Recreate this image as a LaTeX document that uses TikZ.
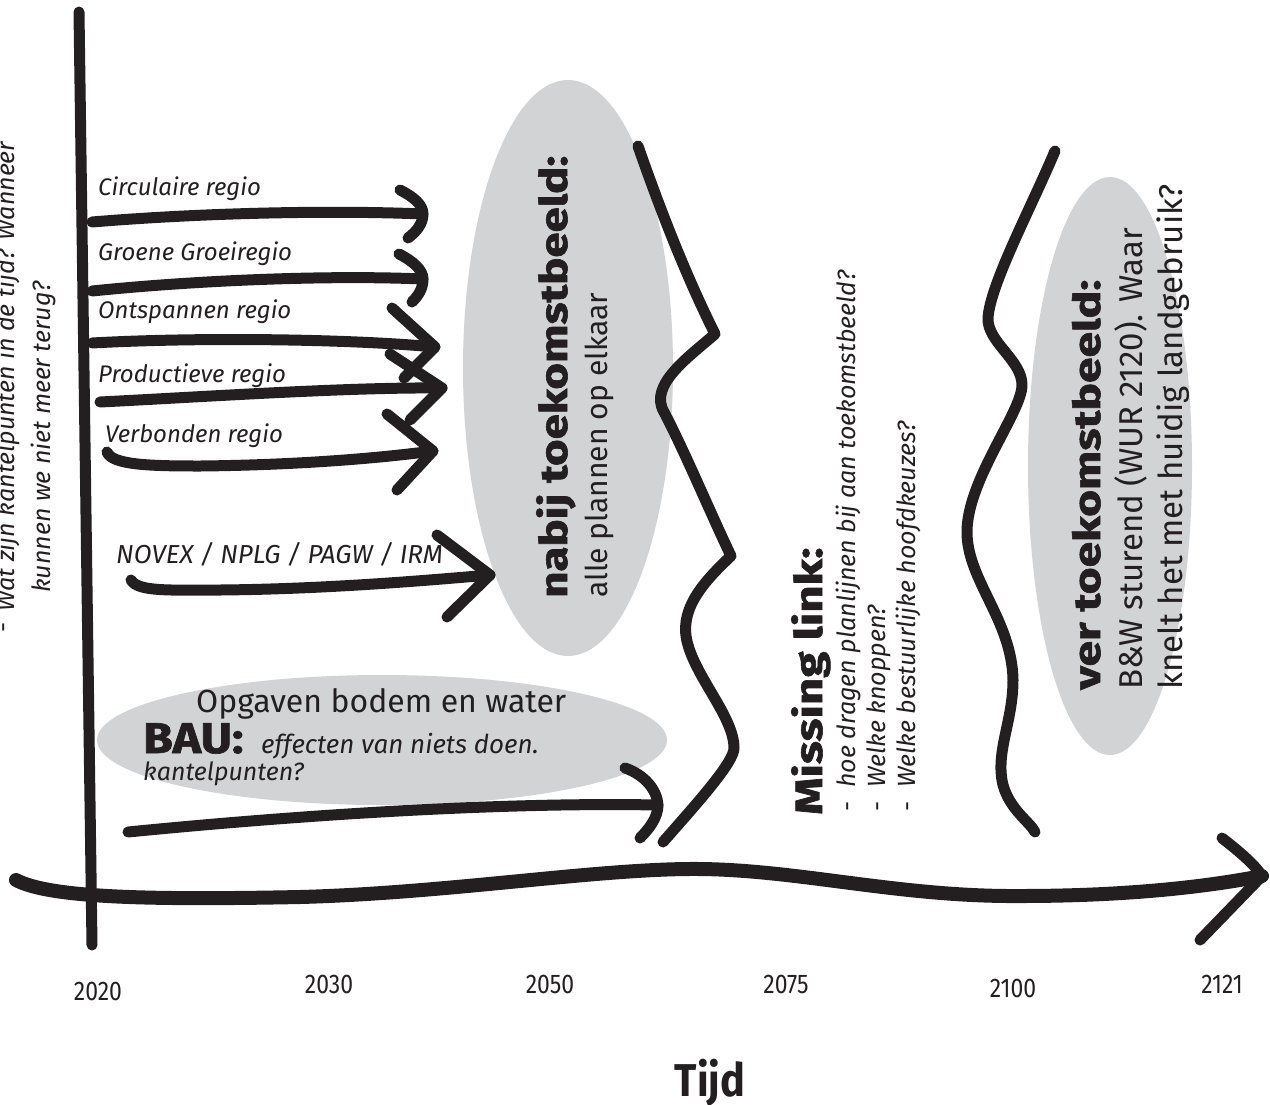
\documentclass[tikz,border=0pt]{standalone}
\usepackage{fontspec}
\usepackage{graphicx}
\usetikzlibrary{shapes.geometric}
\newfontfamily\ff{Fira Sans}
\newfontfamily\ffh{Fira Sans}[BoldFeatures={FakeBold=1.5}]
\newcommand\fl{\ff\upshape\mdseries}
\newcommand\fli{\ff\itshape\mdseries}
\newcommand\fh{\ffh\bfseries\upshape}
\newcommand\fb{\ff\bfseries\upshape}
\newcommand\fsz[1]{\fontsize{#1}{#1}\selectfont}
\newcommand\wide[2]{\scalebox{#1}[1]{#2}}
\definecolor{ink}{HTML}{231F20}
\definecolor{haze}{HTML}{D1D3D4}
\tikzset{
  stroke/.style={draw=ink, line width=11pt, line cap=round, line join=round},
  blob/.style={ellipse, fill=haze, draw=none, inner sep=0pt},
  lbl/.style={anchor=base west, inner sep=0pt, text=ink},
  up/.style={lbl, rotate=90},
  year/.style={anchor=base, inner sep=0pt, text=ink, font=\fl\fsz{27}},
}
\begin{document}
\begin{tikzpicture}[x=1pt,y=-1pt]
\useasboundingbox (0,0) rectangle (1270,1104);

% grey backdrops
\node (bau)   [blob, minimum width=570pt, minimum height=130pt] at (382,740) {};
\node (nabij) [blob, minimum width=210pt, minimum height=576pt] at (568,368) {};
\node (ver)   [blob, minimum width=164pt, minimum height=578pt] at (1110,466) {};

% question along the vertical axis
\node (q0) [lbl] at (2,632) {\rotatebox{90}{\fl\fsz{25}-}};
\node (q1) [up] at (15,612) {\fli\fsz{25}Wat zijn kantelpunten in de tijd? Wanneer};
\node (q2) [up] at (50,593) {\fli\fsz{25}kunnen we niet meer terug?};

% region labels
\node (l1) [lbl] at (98,195) {\fli\fsz{24}Circulaire regio};
\node (l2) [lbl] at (98,260) {\fli\fsz{24}Groene Groeiregio};
\node (l3) [lbl] at (98,318) {\fli\fsz{24}Ontspannen regio};
\node (l4) [lbl] at (98,382) {\fli\fsz{24}Productieve regio};
\node (l5) [lbl] at (105,442) {\fli\fsz{24}Verbonden regio};
\node (l6) [lbl] at (116,563) {\fli\fsz{26}NOVEX / NPLG / PAGW / IRM};

% business as usual
\node (b1) [lbl] at (196,712) {\fl\fsz{32}Opgaven bodem en water};
\node (b2) [lbl] at (143,753) {\fh\fsz{43}\wide{1.12}{BAU:}};
\node (b3) [lbl] at (261,753) {\fli\fsz{26}effecten van niets doen.};
\node (b4) [lbl] at (143,780) {\fli\fsz{25}kantelpunten?};

% near future
\node (n1) [up] at (567,598) {\fh\fsz{38}\wide{1.2}{nabij toekomstbeeld:}};
\node (n2) [up] at (607,598) {\fl\fsz{30}alle plannen op elkaar};

% missing link
\node (m1) [up] at (822,815) {\fh\fsz{38}\wide{1.25}{Missing link:}};
\node (m2) [up] at (855,812) {\fl\fsz{25}-\hspace{14pt}\fli hoe dragen planlijnen bij aan toekomstbeeld?};
\node (m3) [up] at (885,812) {\fl\fsz{25}-\hspace{14pt}\fli Welke knoppen?};
\node (m4) [up] at (915,812) {\fl\fsz{25}-\hspace{14pt}\fli Welke bestuurlijke hoofdkeuzes?};

% far future
\node (v1) [up] at (1100,690) {\fh\fsz{37}\wide{1.25}{ver toekomstbeeld:}};
\node (v2) [up] at (1142,690) {\fl\fsz{33}B\&W sturend (WUR 2120). Waar};
\node (v3) [up] at (1182,690) {\fl\fsz{33}knelt het met huidig landgebruik?};

% years and axis title
\node (y1) [year] at (98,1000)  {\wide{0.85}{2020}};
\node (y2) [year] at (329,993)  {\wide{0.85}{2030}};
\node (y3) [year] at (550,993)  {\wide{0.85}{2050}};
\node (y4) [year] at (786,993)  {\wide{0.85}{2075}};
\node (y5) [year] at (1013,997) {\wide{0.85}{2100}};
\node (y6) [year] at (1222,993) {\wide{0.85}{2121}};
\node (tijd) [anchor=base, inner sep=0pt, text=ink] at (710,1096) {\fb\fsz{46}\wide{0.9}{Tijd}};

% axes
\coordinate (vtop) at (79,12);
\coordinate (vbot) at (92,945);
\draw[stroke] (vtop) -- (vbot);
\coordinate (hs) at (16,880);
\coordinate (ht) at (1262,876);
\coordinate (hu) at (1222,838);
\coordinate (hl) at (1200,940);
\draw[stroke, line width=14pt] (hs) .. controls (50,898) and (150,900) .. (300,897)
  .. controls (450,893) and (600,868) .. (700,869)
  .. controls (800,870) and (900,897) .. (1020,896)
  .. controls (1120,896) and (1200,888) .. (ht);
\draw[stroke] (hu) .. controls (1240,852) and (1255,865) .. (ht) -- (hl);

% regional arrows
\coordinate (c1s) at (92,222);  \coordinate (c1t) at (423,214);
\coordinate (c1u) at (400,190); \coordinate (c1l) at (408,238);
\draw[stroke] (c1s) .. controls (200,213) and (330,210) .. (c1t);
\draw[stroke] (c1u) .. controls (414,197) and (423,205) .. (c1t) .. controls (423,224) and (416,232) .. (c1l);

\coordinate (c2s) at (92,291);  \coordinate (c2t) at (423,279);
\coordinate (c2u) at (399,254); \coordinate (c2l) at (412,302);
\draw[stroke] (c2s) .. controls (200,280) and (330,275) .. (c2t);
\draw[stroke] (c2u) .. controls (413,261) and (423,270) .. (c2t) .. controls (423,289) and (418,296) .. (c2l);

\coordinate (c3s) at (92,343);  \coordinate (c3t) at (435,347);
\coordinate (c3u) at (392,308); \coordinate (c3l) at (404,378);
\draw[stroke] (c3s) .. controls (200,337) and (350,339) .. (c3t);
\draw[stroke] (c3u) -- (c3t) -- (c3l);

\coordinate (c4s) at (100,402); \coordinate (c4t) at (442,388);
\coordinate (c4u) at (390,354); \coordinate (c4l) at (410,420);
\draw[stroke] (c4s) .. controls (200,397) and (350,387) .. (c4t);
\draw[stroke] (c4u) -- (c4t) -- (c4l);

\coordinate (c5s) at (107,452); \coordinate (c5t) at (433,451);
\coordinate (c5u) at (387,414); \coordinate (c5l) at (397,490);
\draw[stroke] (c5s) .. controls (112,465) and (150,466) .. (200,466)
  .. controls (300,465) and (380,458) .. (c5t);
\draw[stroke] (c5u) -- (c5t) -- (c5l);

\coordinate (c6s) at (131,580); \coordinate (c6t) at (490,575);
\coordinate (c6u) at (437,535); \coordinate (c6l) at (447,617);
\draw[stroke] (c6s) .. controls (138,592) and (170,590) .. (220,590)
  .. controls (330,589) and (430,580) .. (c6t);
\draw[stroke] (c6u) -- (c6t) -- (c6l);

\coordinate (c7s) at (128,832); \coordinate (c7t) at (658,805);
\coordinate (c7u) at (625,768); \coordinate (c7l) at (640,838);
\draw[stroke] (c7s) .. controls (300,815) and (500,802) .. (c7t);
\draw[stroke] (c7u) .. controls (645,775) and (657,790) .. (c7t) .. controls (658,818) and (648,830) .. (c7l);

% break lines between the periods
\coordinate (w1s) at (638,146);
\coordinate (w1e) at (663,842);
\draw[stroke] (w1s) .. controls (662,215) and (688,280) .. (715,334)
  .. controls (690,356) and (648,385) .. (664,412)
  .. controls (684,450) and (710,512) .. (731,556)
  .. controls (700,585) and (678,612) .. (688,645)
  .. controls (698,680) and (734,718) .. (734,748)
  .. controls (734,762) and (700,800) .. (w1e);

\coordinate (w2s) at (1055,151);
\coordinate (w2e) at (1035,832);
\draw[stroke] (w2s) .. controls (1030,210) and (990,285) .. (988,318)
  .. controls (987,342) and (1022,360) .. (1022,385)
  .. controls (1022,412) and (967,480) .. (967,532)
  .. controls (967,580) and (1012,620) .. (1013,680)
  .. controls (1013,722) and (995,752) .. (1003,785)
  .. controls (1010,810) and (1030,822) .. (w2e);
\end{tikzpicture}
\end{document}
